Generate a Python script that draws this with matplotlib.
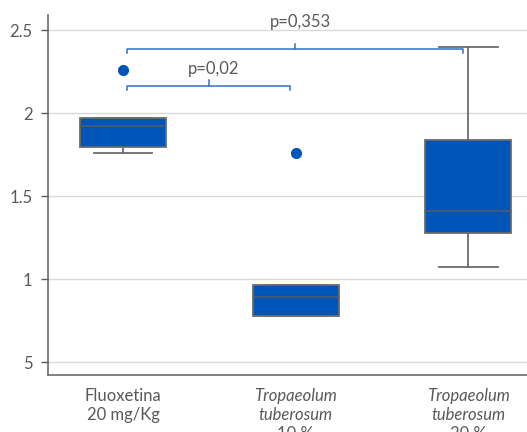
import matplotlib
matplotlib.use("Agg")
import matplotlib.pyplot as plt

plt.rcParams['font.family'] = ['Lato', 'DejaVu Sans']

# valores
grupos = ["Fluoxetina", "Tropaeolum 10", "Tropaeolum 20"]
q1 = [1.797, 0.777, 1.279]
mediana = [1.922, 0.892, 1.411]
q3 = [1.972, 0.964, 1.837]
whis_lo = [1.761, 0.777, 1.074]
whis_hi = [1.972, 0.964, 2.396]
outliers = [[2.259], [1.761], []]

yticks = [0.5, 1, 1.5, 2, 2.5]
ytick_labels = ["5", "1", "1.5", "2", "2.5"]

rotulos = [
    [("Fluoxetina", "normal"), ("20 mg/Kg", "normal")],
    [("Tropaeolum", "italic"), ("tuberosum", "italic"), ("10 %", "normal")],
    [("Tropaeolum", "italic"), ("tuberosum", "italic"), ("20 %", "normal")],
]

# comparacoes (grupo a, grupo b, texto)
comparacoes = [(0, 1, "p=0,02"), (0, 2, "p=0,353")]

azul = "#0055b8"
cinza = "#6b6b6b"
txt = "#595959"
azul_linha = "#2f72c4"

fig = plt.figure(figsize=(5.27, 4.32), dpi=100)
ax = fig.add_axes([0.091, 0.131, 0.909, 0.834])

stats = []
for i in range(len(grupos)):
    stats.append(dict(q1=q1[i], med=mediana[i], q3=q3[i],
                      whislo=whis_lo[i], whishi=whis_hi[i],
                      fliers=outliers[i], label=grupos[i]))

ax.bxp(stats, positions=range(3), widths=0.5, capwidths=0.34,
       patch_artist=True, showfliers=True,
       boxprops=dict(facecolor=azul, edgecolor=cinza, linewidth=1.3),
       medianprops=dict(color="#4a5a70", linewidth=1.3),
       whiskerprops=dict(color=cinza, linewidth=1.3),
       capprops=dict(color=cinza, linewidth=1.3),
       flierprops=dict(marker='o', markerfacecolor=azul, markeredgecolor=azul,
                       markersize=7))

# barras de significancia
niveis = [2.163, 2.384]
for (a, b, texto), y in zip(comparacoes, niveis):
    xa = a + 0.023
    xb = b - 0.03
    ax.plot([xa, xa, xb, xb], [y - 0.025, y, y, y - 0.025],
            color=azul_linha, lw=1.1, clip_on=False)
    xm = (xa + xb) / 2
    ax.plot([xm, xm], [y, y + 0.035], color=azul_linha, lw=1.1, clip_on=False)
    ax.text(xm + 0.03, y + 0.1 if b == 1 else y + 0.165, texto,
            ha='center', va='center', fontsize=12, color=txt)

ax.set_xlim(-0.435, 2.34)
ax.set_ylim(0.42, 2.59)
ax.set_yticks(yticks)
ax.set_yticklabels(ytick_labels)
ax.set_xticks([])
ax.tick_params(axis='y', colors=txt, labelsize=12, length=5, width=1, pad=6)
ax.grid(axis='y', color="#d9d9d9", lw=1)
ax.set_axisbelow(True)
for s in ['top', 'right']:
    ax.spines[s].set_visible(False)
for s in ['left', 'bottom']:
    ax.spines[s].set_color(cinza)
    ax.spines[s].set_linewidth(1.2)

trans = ax.get_xaxis_transform()
for i, linhas in enumerate(rotulos):
    for j, (t, estilo) in enumerate(linhas):
        ax.text(i, -0.058 - j * 0.053, t, transform=trans, ha='center',
                va='center', fontsize=12, color=txt, style=estilo,
                clip_on=False)

fig.savefig("out.png", dpi=100)
